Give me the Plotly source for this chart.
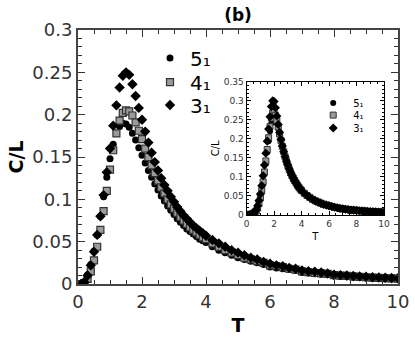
import plotly.graph_objects as go

# temperature grid (fine near the peak, coarser in the tail)
T = [0.1, 0.2, 0.3, 0.4, 0.5, 0.6, 0.7, 0.8, 0.9, 1.0,
     1.1, 1.2, 1.3, 1.4, 1.5, 1.6, 1.7, 1.8, 1.9, 2.0,
     2.1, 2.2, 2.3, 2.4, 2.5, 2.6, 2.7, 2.8, 2.9, 3.0,
     3.1, 3.2, 3.3, 3.4, 3.5, 3.6, 3.7, 3.8, 3.9, 4.0,
     4.2, 4.4, 4.6, 4.8, 5.0, 5.2, 5.4, 5.6, 5.8, 6.0,
     6.2, 6.4, 6.6, 6.8, 7.0, 7.2, 7.4, 7.6, 7.8, 8.0,
     8.2, 8.4, 8.6, 8.8, 9.0, 9.2, 9.4, 9.6, 9.8, 10.0]

# main panel, C/L
main_51 = [0.000, 0.003, 0.011, 0.023, 0.039, 0.058, 0.080, 0.103, 0.126, 0.148,
           0.165, 0.178, 0.186, 0.190, 0.189, 0.185, 0.178, 0.170, 0.161, 0.152,
           0.143, 0.134, 0.126, 0.118, 0.111, 0.104, 0.098, 0.092, 0.087, 0.082,
           0.077, 0.073, 0.069, 0.065, 0.062, 0.059, 0.056, 0.053, 0.051, 0.049,
           0.044, 0.040, 0.037, 0.034, 0.031, 0.029, 0.027, 0.025, 0.023, 0.020,
           0.019, 0.018, 0.017, 0.016, 0.0135, 0.013, 0.012, 0.0115, 0.011, 0.0095,
           0.009, 0.0085, 0.008, 0.0076, 0.0072, 0.0068, 0.0065, 0.0062, 0.006, 0.0057]
main_41 = [0.000, 0.001, 0.006, 0.015, 0.028, 0.044, 0.064, 0.086, 0.110, 0.135,
           0.158, 0.178, 0.193, 0.202, 0.205, 0.204, 0.199, 0.191, 0.181, 0.171,
           0.160, 0.150, 0.140, 0.131, 0.122, 0.114, 0.107, 0.100, 0.094, 0.089,
           0.084, 0.079, 0.075, 0.071, 0.067, 0.064, 0.061, 0.058, 0.055, 0.053,
           0.048, 0.044, 0.040, 0.037, 0.034, 0.031, 0.029, 0.027, 0.025, 0.022,
           0.021, 0.020, 0.018, 0.017, 0.015, 0.014, 0.013, 0.0125, 0.012, 0.0105,
           0.010, 0.0095, 0.009, 0.0085, 0.008, 0.0076, 0.0072, 0.0069, 0.0066, 0.0063]
main_31 = [0.000, 0.002, 0.010, 0.022, 0.038, 0.058, 0.080, 0.105, 0.132, 0.160,
           0.187, 0.211, 0.232, 0.246, 0.250, 0.247, 0.236, 0.222, 0.208, 0.194,
           0.180, 0.167, 0.155, 0.144, 0.134, 0.125, 0.117, 0.110, 0.103, 0.097,
           0.091, 0.086, 0.081, 0.077, 0.073, 0.069, 0.066, 0.063, 0.060, 0.057,
           0.052, 0.048, 0.044, 0.040, 0.037, 0.034, 0.031, 0.029, 0.026, 0.024,
           0.022, 0.021, 0.019, 0.018, 0.016, 0.015, 0.0145, 0.0135, 0.0125, 0.011,
           0.0105, 0.010, 0.0095, 0.009, 0.0085, 0.008, 0.0077, 0.0074, 0.0071, 0.0068]

# inset panel, C/L
ins_51 = [0.000, 0.000, 0.001, 0.002, 0.004, 0.007, 0.011, 0.018, 0.029, 0.043,
          0.061, 0.083, 0.108, 0.136, 0.165, 0.194, 0.220, 0.241, 0.254, 0.259,
          0.255, 0.243, 0.228, 0.211, 0.195, 0.180, 0.166, 0.153, 0.141, 0.130,
          0.120, 0.111, 0.103, 0.096, 0.089, 0.083, 0.077, 0.072, 0.067, 0.063,
          0.056, 0.050, 0.045, 0.040, 0.036, 0.033, 0.030, 0.027, 0.025, 0.023,
          0.021, 0.019, 0.018, 0.017, 0.015, 0.014, 0.013, 0.0125, 0.012, 0.011,
          0.0105, 0.010, 0.0095, 0.009, 0.0085, 0.0082, 0.0078, 0.0075, 0.0072, 0.007]
ins_41 = [0.000, 0.000, 0.001, 0.002, 0.004, 0.007, 0.010, 0.018, 0.030, 0.045,
          0.064, 0.087, 0.113, 0.142, 0.172, 0.203, 0.232, 0.255, 0.268, 0.270,
          0.262, 0.248, 0.231, 0.213, 0.196, 0.180, 0.166, 0.153, 0.141, 0.130,
          0.120, 0.111, 0.103, 0.096, 0.090, 0.084, 0.078, 0.073, 0.068, 0.064,
          0.057, 0.051, 0.046, 0.041, 0.037, 0.034, 0.031, 0.028, 0.026, 0.024,
          0.022, 0.020, 0.019, 0.017, 0.016, 0.015, 0.014, 0.013, 0.0125, 0.012,
          0.011, 0.0105, 0.010, 0.0095, 0.009, 0.0086, 0.0082, 0.0078, 0.0075, 0.0072]
ins_31 = [0.000, 0.000, 0.001, 0.002, 0.004, 0.008, 0.014, 0.024, 0.038, 0.055,
          0.077, 0.103, 0.131, 0.162, 0.194, 0.226, 0.258, 0.285, 0.300, 0.298,
          0.282, 0.260, 0.238, 0.217, 0.198, 0.181, 0.166, 0.153, 0.141, 0.131,
          0.121, 0.112, 0.104, 0.097, 0.090, 0.084, 0.078, 0.073, 0.068, 0.064,
          0.057, 0.051, 0.046, 0.041, 0.037, 0.034, 0.031, 0.028, 0.026, 0.024,
          0.022, 0.020, 0.019, 0.017, 0.016, 0.015, 0.014, 0.013, 0.0125, 0.012,
          0.011, 0.0105, 0.010, 0.0095, 0.009, 0.0086, 0.0082, 0.0078, 0.0075, 0.0072]

labels = ["5\u2081", "4\u2081", "3\u2081"]

fig = go.Figure()

# main panel markers, one legend per entry so rows can sit close together
styles = [
    dict(symbol="circle", size=7, color="black", line=dict(color="black", width=0)),
    dict(symbol="square", size=7, color="#9a9a9a", line=dict(color="#333", width=1.2)),
    dict(symbol="diamond", size=8, color="black", line=dict(color="black", width=0)),
]
main_legends = ["legend", "legend2", "legend3"]
for name, ys, st, lg in zip(labels, [main_51, main_41, main_31], styles, main_legends):
    fig.add_trace(go.Scatter(x=T, y=ys, mode="markers", name=name, marker=st,
                             legend=lg, xaxis="x", yaxis="y"))

# inset markers
ins_styles = [
    dict(symbol="circle", size=6, color="black", line=dict(color="black", width=0)),
    dict(symbol="square", size=6, color="#9a9a9a", line=dict(color="#333", width=1)),
    dict(symbol="diamond", size=7, color="black", line=dict(color="black", width=0)),
]
ins_legends = ["legend4", "legend5", "legend6"]
for name, ys, st, lg in zip(labels, [ins_51, ins_41, ins_31], ins_styles, ins_legends):
    fig.add_trace(go.Scatter(x=T, y=ys, mode="markers", name=name, marker=st,
                             legend=lg, xaxis="x2", yaxis="y2"))

tickfont_main = dict(family="DejaVu Sans", size=18, color="#333")
tickfont_ins = dict(family="DejaVu Sans", size=9, color="#333")


def leg(x, y, size):
    return dict(x=x, y=y, xanchor="left", yanchor="middle", bgcolor="rgba(0,0,0,0)",
                font=dict(family="DejaVu Sans", size=size, color="black"), itemwidth=30)


fig.update_layout(
    width=415, height=345,
    margin=dict(l=78, r=17, t=30, b=61, autoexpand=False),
    paper_bgcolor="white", plot_bgcolor="white",
    showlegend=True,
    title=dict(text="<b>(b)</b>", x=0.5, xref="paper", y=0.975, yanchor="top",
               font=dict(family="DejaVu Sans", size=17, color="black")),
    xaxis=dict(domain=[0, 1], range=[0, 10], dtick=2, tick0=0, automargin=False,
               ticks="inside", ticklen=7, tickcolor="#333", showline=True,
               linecolor="#444", linewidth=2, mirror="ticks", showgrid=False,
               zeroline=False, tickfont=tickfont_main,
               minor=dict(dtick=0.5, ticks="inside", ticklen=4, tickcolor="#333"),
               title=dict(text="<b>T</b>", font=dict(family="DejaVu Sans", size=19, color="black"),
                          standoff=8)),
    yaxis=dict(domain=[0, 1], range=[0, 0.3], dtick=0.05, tick0=0, automargin=False,
               ticks="inside", ticklen=7, tickcolor="#333", showline=True,
               linecolor="#444", linewidth=2, mirror="ticks", showgrid=False,
               zeroline=False, tickfont=tickfont_main,
               minor=dict(dtick=0.01, ticks="inside", ticklen=4, tickcolor="#333"),
               title=dict(text="<b>C/L</b>", font=dict(family="DejaVu Sans", size=19, color="black"),
                          standoff=4)),
    xaxis2=dict(domain=[0.527, 0.956], anchor="y2", range=[0, 10], dtick=2, tick0=0,
                ticks="inside", ticklen=4, tickcolor="black", showline=True,
                linecolor="black", linewidth=1, mirror="ticks", showgrid=False,
                zeroline=False, tickfont=tickfont_ins,
                minor=dict(dtick=0.5, ticks="inside", ticklen=2, tickcolor="black"),
                title=dict(text="T", font=dict(family="DejaVu Sans", size=10, color="black"),
                           standoff=5)),
    yaxis2=dict(domain=[0.272, 0.796], anchor="x2", range=[0, 0.35], dtick=0.05, tick0=0,
                ticks="inside", ticklen=4, tickcolor="black", showline=True,
                linecolor="black", linewidth=1, mirror="ticks", showgrid=False,
                zeroline=False, tickfont=tickfont_ins,
                minor=dict(dtick=0.01, ticks="inside", ticklen=2, tickcolor="black"),
                title=dict(text="C/L", font=dict(family="DejaVu Sans", size=10, color="black"),
                           standoff=2)),
    legend=leg(0.225, 0.890, 20),
    legend2=leg(0.225, 0.795, 20),
    legend3=leg(0.225, 0.705, 20),
    legend4=leg(0.735, 0.713, 10),
    legend5=leg(0.735, 0.665, 10),
    legend6=leg(0.735, 0.614, 10),
)

# drop the browser's default page margin so the figure sits at the window corner
fig.write_html("out.html", config={"displayModeBar": False},
               post_script="document.body.style.margin='0';")
